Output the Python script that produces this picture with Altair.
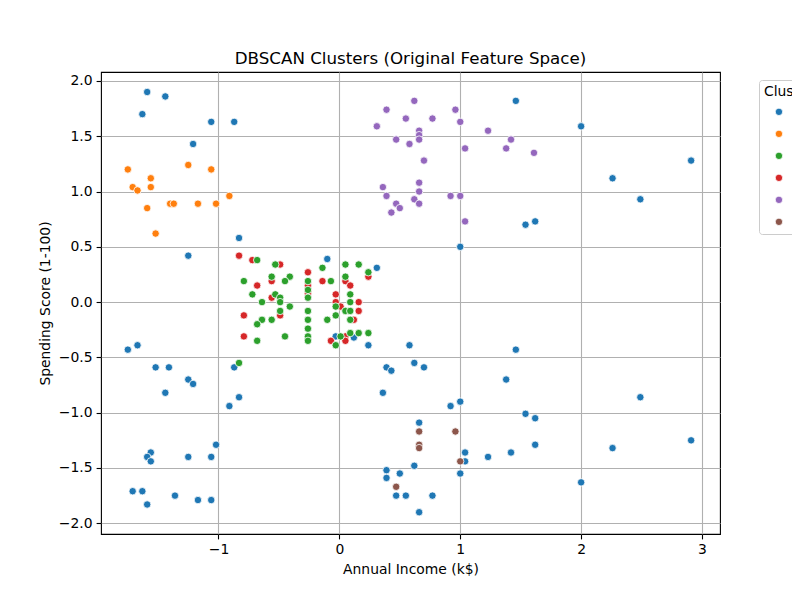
import altair as alt
import pandas as pd

# cluster -1 (noise)
noise_x = [-1.59, -1.44, -1.63, -1.06, -0.87, -1.21, -1.25, -0.83, -1.75, -1.67,
           -1.52, -1.41, -1.25, -1.21, -0.87, -1.44, -0.83, -0.91, -1.02, -1.56,
           -1.59, -1.56, -1.25, -1.06, -1.71, -1.63, -1.59, -1.36, -1.17, -1.06,
           -0.10, 0.31, -0.03, 0.12, 0.24, 0.58, 1.00, 0.39, 0.43, 0.62,
           0.70, 1.38, 0.36, 0.92, 1.00, 0.66, 1.04, 1.04, 1.23, 1.42,
           0.62, 0.39, 0.50, 0.39, 1.00, 0.47, 0.55, 0.77, 0.66, 1.46,
           2.00, 2.91, 2.26, 2.49, 1.54, 1.62, 1.46, 2.49, 1.54, 1.62,
           1.62, 2.26, 2.91, 2.00]
noise_y = [1.90, 1.86, 1.70, 1.63, 1.63, 1.43, 0.42, 0.58, -0.43, -0.39,
           -0.59, -0.59, -0.70, -0.74, -0.59, -0.82, -0.86, -0.94, -1.29, -1.36,
           -1.40, -1.44, -1.40, -1.40, -1.71, -1.71, -1.83, -1.75, -1.79, -1.79,
           0.39, 0.31, -0.31, -0.32, -0.39, -0.39, 0.50, -0.59, -0.62, -0.55,
           -0.59, -0.70, -0.82, -0.94, -0.90, -1.09, -1.36, -1.44, -1.40, -1.36,
           -1.48, -1.52, -1.55, -1.59, -1.55, -1.75, -1.75, -1.75, -1.90, 1.82,
           1.59, 1.28, 1.12, 0.93, 0.70, 0.73, -0.43, -0.86, -1.01, -1.05,
           -1.29, -1.32, -1.25, -1.63]

# cluster 0
c0_x = [-1.75, -1.25, -1.06, -1.56, -1.71, -1.67, -1.56, -0.91, -1.59, -1.40,
        -1.37, -1.17, -1.02, -1.52]
c0_y = [1.20, 1.24, 1.20, 1.12, 1.04, 1.01, 1.04, 0.96, 0.85, 0.89,
        0.89, 0.89, 0.89, 0.62]

# cluster 1
c1_x = [-0.68, -0.53, -0.56, -0.41, -0.45, -0.79, -0.72, -0.53, -0.64, -0.49,
        -0.49, -0.41, -0.49, -0.64, -0.68, -0.56, -0.68, -0.45, -0.83,
        -0.26, -0.26, -0.26, -0.26, -0.26, -0.26, -0.26, -0.26,
        -0.14, 0.05, 0.16, 0.24, -0.07, 0.05, 0.09, -0.03, 0.05, 0.09,
        0.09, -0.03, -0.10, 0.09, 0.09, 0.16, 0.24, 0.01, -0.03]
c1_y = [0.38, 0.34, 0.23, 0.23, 0.19, 0.19, 0.07, 0.07, 0.00, 0.04,
        0.00, -0.04, -0.08, -0.16, -0.20, -0.16, -0.35, -0.31, -0.55,
        0.19, 0.11, 0.04, -0.08, -0.16, -0.24, -0.31, -0.35,
        0.31, 0.34, 0.34, 0.27, 0.19, 0.23, 0.07, -0.04, -0.08, 0.00,
        -0.08, -0.12, -0.16, -0.16, -0.28, -0.28, -0.28, -0.31, -0.39]

# cluster 2
c2_x = [-0.83, -0.72, -0.49, -0.56, -0.68, -0.56, -0.79, -0.49, -0.79, -0.26,
        -0.26, -0.26, -0.14, 0.24, 0.05, 0.09, -0.03, -0.03, 0.01, 0.16,
        0.16, 0.12, 0.05, -0.07, 0.05]
c2_y = [0.42, 0.38, 0.34, 0.19, 0.15, 0.04, -0.12, -0.12, -0.31, 0.27,
        0.15, 0.08, 0.19, 0.23, 0.19, 0.15, 0.07, 0.00, -0.04, 0.00,
        -0.08, -0.16, -0.31, -0.35, -0.35]

# cluster 3
c3_x = [0.62, 0.39, 0.96, 0.55, 0.77, 0.31, 1.00, 1.23, 0.66, 0.66,
        0.66, 0.47, 0.58, 1.04, 1.42, 1.38, 1.61, 0.70, 0.66, 0.36,
        0.66, 0.39, 0.92, 1.00, 0.62, 0.47, 0.66, 0.50, 0.43, 1.04]
c3_y = [1.82, 1.74, 1.74, 1.66, 1.66, 1.59, 1.63, 1.55, 1.55, 1.51,
        1.47, 1.47, 1.43, 1.39, 1.47, 1.39, 1.35, 1.28, 1.08, 1.04,
        1.00, 0.96, 0.96, 0.96, 0.93, 0.89, 0.89, 0.85, 0.81, 0.73]

# cluster 4
c4_x = [0.66, 0.96, 0.66, 0.66, 1.00, 0.47]
c4_y = [-1.17, -1.17, -1.29, -1.32, -1.44, -1.67]

clusters = [-1, 0, 1, 2, 3, 4]
tab10 = ['#1f77b4', '#ff7f0e', '#2ca02c', '#d62728', '#9467bd', '#8c564b']

parts = []
for lab, xs, ys in [(-1, noise_x, noise_y), (0, c0_x, c0_y), (2, c2_x, c2_y),
                    (1, c1_x, c1_y), (3, c3_x, c3_y), (4, c4_x, c4_y)]:
    parts.append(pd.DataFrame({'income': xs, 'spending': ys, 'Cluster': lab}))
df = pd.concat(parts, ignore_index=True)

font = 'DejaVu Sans'

x_axis = alt.X('income:Q',
               scale=alt.Scale(domain=[-1.972, 3.149], nice=False, zero=False),
               axis=alt.Axis(values=[-1, 0, 1, 2, 3], format='d',
                             labelExpr="replace(datum.label, '-', '−')",
                             title='Annual Income (k$)'))
y_axis = alt.Y('spending:Q',
               scale=alt.Scale(domain=[-2.097, 2.081], nice=False, zero=False),
               axis=alt.Axis(values=[-2, -1.5, -1, -0.5, 0, 0.5, 1, 1.5, 2], format='.1f',
                             labelExpr="replace(datum.label, '-', '−')",
                             title='Spending Score (1-100)'))
# legend sits half outside the figure, like the original bbox_to_anchor legend
legend = alt.Legend(title='Cluster', orient='none', legendX=658, legendY=8,
                    padding=5, strokeColor='#cccccc', fillColor='white', cornerRadius=3,
                    titleFont=font, titleFontSize=13.9, titleFontWeight='normal',
                    titleColor='black', titlePadding=6,
                    labelFont=font, labelFontSize=13.9, labelColor='black', labelOffset=22,
                    symbolType='circle', symbolSize=55, symbolStrokeColor='white',
                    symbolStrokeWidth=0.8, symbolOffset=8, rowPadding=7)

chart = alt.Chart(df).mark_circle(size=55, opacity=1, stroke='white', strokeWidth=0.8).encode(
    x=x_axis,
    y=y_axis,
    color=alt.Color('Cluster:N', scale=alt.Scale(domain=clusters, range=tab10), legend=legend),
).properties(
    width=619, height=462,
    title=alt.TitleParams('DBSCAN Clusters (Original Feature Space)', font=font, fontSize=16.7,
                          fontWeight='normal', color='black', anchor='middle', frame='group',
                          offset=4),
    autosize=alt.AutoSizeParams(type='none'),
    padding={'left': 93, 'top': 64, 'right': 72, 'bottom': 49},
).configure_view(
    stroke='black', strokeWidth=1.1
).configure_axis(
    domain=False, grid=True, gridColor='#b0b0b0', gridWidth=1.1, zindex=1,
    tickColor='black', tickSize=4.9, tickWidth=1.1,
    labelFont=font, labelFontSize=13.9, labelColor='black', labelPadding=4,
    titleFont=font, titleFontSize=13.9, titleFontWeight='normal', titleColor='black',
    titlePadding=6
)

chart.save('out.html', embed_options={'renderer': 'svg', 'actions': False})
